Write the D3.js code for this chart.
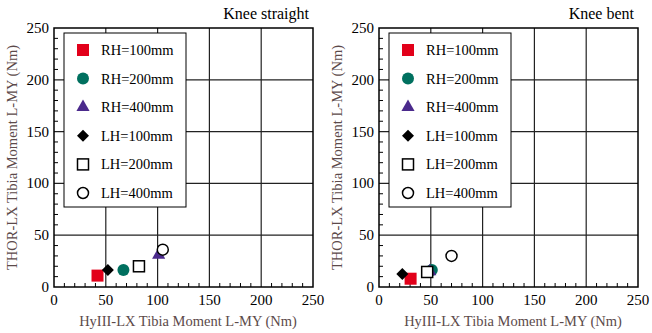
<!DOCTYPE html>
<html>
<head>
<meta charset="utf-8">
<script src="https://cdn.jsdelivr.net/npm/d3@7"></script>
<style>
  body { margin: 0; background: #fff; }
  text { font-family: "Liberation Serif", "Times New Roman", serif; }
</style>
</head>
<body>
<div id="chart"></div>
<script>
// series names and marker styles
var seriesNames = ["RH=100mm", "RH=200mm", "RH=400mm", "LH=100mm", "LH=200mm", "LH=400mm"];
var panelTitles = ["Knee straight", "Knee bent"];
var tickValues = [0, 50, 100, 150, 200, 250];

// [HyIII, THOR] per series, knee straight
var straightX = [42, 67, 101, 52, 82, 105];
var straightY = [11, 16.5, 31, 16.5, 20, 36];
// knee bent
var bentX = [30.5, 51, 49, 22.5, 46.5, 70];
var bentY = [8, 16.5, 15, 12.5, 14.5, 30];

var width = 652, height = 333;
var svg = d3.select("#chart").append("svg")
    .attr("width", width)
    .attr("height", height);

var panels = [
    { left: 54, title: panelTitles[0], xs: straightX, ys: straightY },
    { left: 379, title: panelTitles[1], xs: bentX, ys: bentY }
];

var plotTop = 28, plotW = 259, plotH = 259;

// draw a marker of the given series at (0,0) inside group g
function drawMarker(g, i) {
    if (i == 0) {
        g.append("rect").attr("x", -6).attr("y", -6).attr("width", 12).attr("height", 12)
            .attr("fill", "#e2001a");
    } else if (i == 1) {
        g.append("circle").attr("r", 6).attr("fill", "#00705f");
    } else if (i == 2) {
        g.append("path").attr("d", d3.symbol().type(d3.symbolTriangle).size(75))
            .attr("fill", "#4b2a8c");
    } else if (i == 3) {
        g.append("path").attr("d", "M0,-6L6,0L0,6L-6,0Z").attr("fill", "#000");
    } else if (i == 4) {
        g.append("rect").attr("x", -5.5).attr("y", -5.5).attr("width", 11).attr("height", 11)
            .attr("fill", "#fff").attr("stroke", "#000").attr("stroke-width", 1.5);
    } else {
        g.append("circle").attr("r", 5.5).attr("fill", "#fff")
            .attr("stroke", "#000").attr("stroke-width", 1.5);
    }
}

panels.forEach(function (p) {
    var x = d3.scaleLinear().domain([0, 250]).range([p.left, p.left + plotW]);
    var y = d3.scaleLinear().domain([0, 250]).range([plotTop + plotH, plotTop]);
    var g = svg.append("g");

    // gridlines every 50
    g.selectAll(".gx").data(tickValues.slice(1, -1)).enter().append("line")
        .attr("x1", function (d) { return x(d); }).attr("x2", function (d) { return x(d); })
        .attr("y1", plotTop).attr("y2", plotTop + plotH)
        .attr("stroke", "#222").attr("stroke-width", 1.2);
    g.selectAll(".gy").data(tickValues.slice(1, -1)).enter().append("line")
        .attr("y1", function (d) { return y(d); }).attr("y2", function (d) { return y(d); })
        .attr("x1", p.left).attr("x2", p.left + plotW)
        .attr("stroke", "#222").attr("stroke-width", 1.2);

    // minor inward ticks on left and bottom
    var minor = d3.range(10, 250, 10).filter(function (d) { return d % 50 != 0; });
    g.selectAll(".mx").data(minor).enter().append("line")
        .attr("x1", function (d) { return x(d); }).attr("x2", function (d) { return x(d); })
        .attr("y1", plotTop + plotH).attr("y2", plotTop + plotH - 4)
        .attr("stroke", "#000");
    g.selectAll(".my").data(minor).enter().append("line")
        .attr("y1", function (d) { return y(d); }).attr("y2", function (d) { return y(d); })
        .attr("x1", p.left).attr("x2", p.left + 4)
        .attr("stroke", "#000");

    // frame
    g.append("rect").attr("x", p.left).attr("y", plotTop).attr("width", plotW).attr("height", plotH)
        .attr("fill", "none").attr("stroke", "#000").attr("stroke-width", 1.5);

    // tick labels
    g.selectAll(".tx").data(tickValues).enter().append("text")
        .attr("x", function (d) { return x(d); }).attr("y", plotTop + plotH + 18)
        .attr("text-anchor", "middle").style("font-size", "15px")
        .text(function (d) { return d; });
    g.selectAll(".ty").data(tickValues).enter().append("text")
        .attr("x", p.left - 5).attr("y", function (d) { return y(d) + 5; })
        .attr("text-anchor", "end").style("font-size", "15px")
        .text(function (d) { return d; });

    // axis titles
    g.append("text")
        .attr("x", p.left + plotW / 2 + 4.5).attr("y", 326)
        .attr("text-anchor", "middle").style("font-size", "14.5px").attr("fill", "#5c4a4a")
        .text("HyIII-LX Tibia Moment L-MY (Nm)");
    g.append("text")
        .attr("transform", "translate(" + (p.left - 37) + "," + (plotTop + plotH / 2) + ") rotate(-90)")
        .attr("text-anchor", "middle").style("font-size", "14.5px").attr("fill", "#5c4a4a")
        .text("THOR-LX Tibia Moment L-MY (Nm)");

    // panel title
    g.append("text")
        .attr("x", p.left + plotW - 4).attr("y", 19)
        .attr("text-anchor", "end").style("font-size", "16px")
        .text(p.title);

    // legend box
    var lx = p.left + 10, ly = 33;
    g.append("rect").attr("x", lx).attr("y", ly).attr("width", 122).attr("height", 174)
        .attr("fill", "#fff").attr("stroke", "#000").attr("stroke-width", 1);
    seriesNames.forEach(function (name, i) {
        var rowY = ly + 17 + i * 28.6;
        var m = g.append("g").attr("transform", "translate(" + (lx + 19) + "," + rowY + ")");
        drawMarker(m, i);
        g.append("text").attr("x", lx + 37).attr("y", rowY + 5)
            .style("font-size", "14.5px").text(name);
    });

    // data points
    seriesNames.forEach(function (name, i) {
        var m = g.append("g")
            .attr("transform", "translate(" + x(p.xs[i]) + "," + y(p.ys[i]) + ")");
        drawMarker(m, i);
    });
});
</script>
</body>
</html>
